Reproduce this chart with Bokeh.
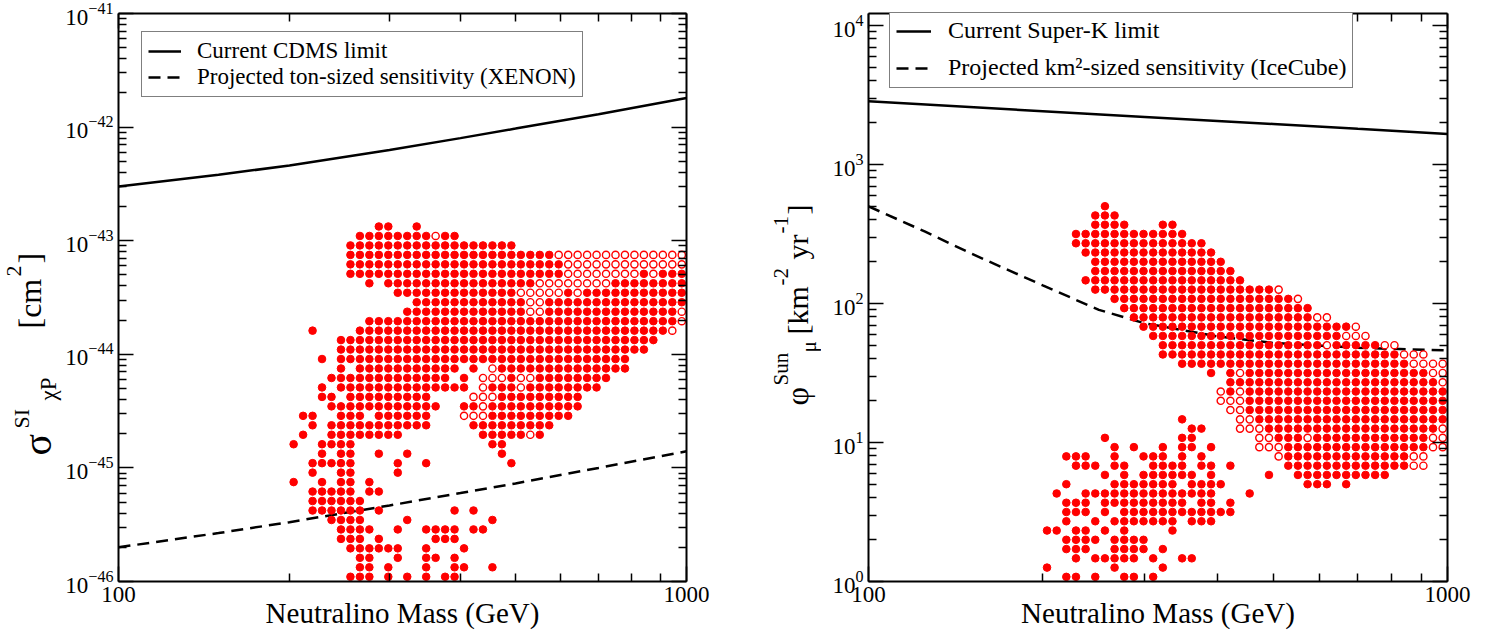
import math
from bokeh.plotting import figure
from bokeh.models import (LogAxis, FixedTicker, Label, Legend, LegendItem,
                          Range1d, LogTickFormatter, CustomJSTickFormatter)
from bokeh.layouts import row
from bokeh.embed import file_html
from bokeh.resources import INLINE

# ---------------------------------------------------------------- data
# Scan grid: 60 mass columns per decade (column index c),
# 12 rows per decade for the cross-section panel, 15 rows per decade for the flux panel.
MASS_COLS_PER_DECADE = 60
LEFT_ROWS_PER_DECADE = 12
RIGHT_ROWS_PER_DECADE = 15

# Left panel rows (row 0 = lowest, at 1e-46), top row first
left_rows = list(range(37, -1, -1))
left_filled = [
    "27-28,31", "25-32,34-35", "24-41", "24-45", "24-46", "24-46,55,57-59",
    "26,28-43,52-59", "29-41,47,49-59", "31-42,45-59", "30-42,45-58", "26-58",
    "20,25-57", "23-56", "23-55", "21,23-53", "23,25-35,37,40-53",
    "22-34,36,41,44-51", "21,23-36,39-41,43-50", "21-22,24-32,40-48",
    "22-33,36-37,39-48", "19-20,23-25,27-32,39-47", "20,22-32,37-45",
    "19,22-29,38-42,44", "18,21-24,39-40", "21,23-24,27,30,40", "20-24,29,32,41",
    "20,23-24,29", "18,21,23-24,26", "20-24,26-27", "20-25", "20-25,27,35,37",
    "22-25,30,39", "23-26,29,32-35,37-38", "23-25,27,33-35", "24-29,32,36",
    "25-26,29,32-33,35", "25-26,28,32,35-36,39", "24-26,28,30,32,34-35",
]
left_open = [
    "", "33", "", "46-59", "47-59", "47-54,56", "44-51", "42-46,48", "43-44",
    "43-44,59", "59", "58", "", "", "", "39", "38-40,42-43", "38,42", "37-39",
    "38", "36-38", "", "43", "", "", "", "", "", "", "", "", "", "", "", "", "",
    "", "",
]

# Right panel rows (row 0 = lowest, at 1), top row first
right_rows = list(range(40, -1, -1))
right_filled = [
    "24", "23-25", "23-26,30-31", "21-32", "21-34", "22-35", "23-36", "23-37",
    "22-38", "23-41", "25-43", "26-45", "27-45", "28-49", "29-48",
    "30-46,48-52", "30-54", "32-55", "35,37,39-57", "37-58", "37,39-59",
    "39-59", "39-59", "32,40-59", "33-34,41-58", "24,32-33,42-44,46-57",
    "25,27,30,32-33,35,43-57", "20-22,25,28-30,32,34,43-55",
    "21-23,25-26,29-32,34-35,37,43-55", "24,26,28-33,35,41,44-53",
    "20,25-31,33-36,45-47,49", "19,22-35,39", "20-22,24-32,34-35,37",
    "20-22,24,26-37", "20,23,25-31,33-35", "18-19,21-22,24,26,31",
    "20-23,25-28", "20-22,25-28,30", "21,23-27,29,32-33", "18,25,30",
    "20-21,23,26-27,29",
]
right_open = [
    "", "", "", "", "", "", "", "", "", "42", "44", "", "46-47", "50", "49-51",
    "47,53-54", "55-57", "56-59", "38,58-59", "59", "36,38", "36-38", "37-38",
    "38-39", "38-40,59", "40-41,45,58-59", "40-42,58-59", "42,56-57", "56-57",
    "", "", "", "", "", "", "", "", "", "", "", "",
]

# Limit curves
cdms_mass = [100, 150, 200, 300, 400, 500, 700, 1000]
cdms_sigma = [3.0e-43, 3.8e-43, 4.6e-43, 6.3e-43, 8.0e-43, 9.7e-43, 1.3e-42, 1.8e-42]
xenon_mass = [100, 150, 200, 300, 400, 500, 700, 1000]
xenon_sigma = [2.0e-46, 2.67e-46, 3.33e-46, 4.67e-46, 6.0e-46, 7.3e-46, 1.0e-45, 1.4e-45]
superk_mass = [100, 200, 300, 500, 700, 1000]
superk_flux = [2850, 2420, 2200, 1955, 1805, 1660]
icecube_mass = [100, 125, 150, 200, 250, 300, 400, 500, 700, 1000]
icecube_flux = [500, 330, 230, 135, 90, 72, 58, 52, 48, 46]

# Axis extents
left_y_extent = (1e-46, 1e-41)
right_y_extent = (1, 1.22e4)

# Texts
left_legend = ["Current CDMS limit", "Projected ton-sized sensitivity (XENON)"]
right_legend = ["Current Super-K limit", "Projected km\u00b2-sized sensitivity (IceCube)"]
x_title = "Neutralino Mass (GeV)"

# ---------------------------------------------------------------- layout constants
FONT = "Liberation Serif"
RED = "#ff0000"
H = 640          # canvas height
TOP = 13         # frame top (page px)
BOT = 581        # frame bottom (page px)
FH = BOT - TOP


def parse(spec):
    out = []
    for part in spec.split(","):
        part = part.strip()
        if not part:
            continue
        if "-" in part:
            a, b = part.split("-")
            out.extend(range(int(a), int(b) + 1))
        else:
            out.append(int(part))
    return out


def grid_points(rows, specs, y_lo_exp, rows_per_decade):
    xs, ys = [], []
    for r, spec in zip(rows, specs):
        for c in parse(spec):
            xs.append(10 ** (2 + (c + 0.5) / MASS_COLS_PER_DECADE))
            ys.append(10 ** (y_lo_exp + (r + 0.5) / rows_per_decade))
    return xs, ys


def style_axis(ax, ticks, minor, show_labels=True, fmt=None):
    ax.ticker = FixedTicker(ticks=ticks, minor_ticks=minor)
    if fmt is not None:
        ax.formatter = fmt
    ax.axis_line_width = 2
    ax.axis_line_color = "black"
    ax.major_tick_in = 15
    ax.major_tick_out = 0
    ax.minor_tick_in = 8
    ax.minor_tick_out = 0
    ax.major_tick_line_width = 1.5
    ax.minor_tick_line_width = 1.5
    ax.major_tick_line_color = "black"
    ax.minor_tick_line_color = "black"
    ax.major_label_text_font = FONT
    if show_labels:
        ax.major_label_text_color = "black"
        ax.major_label_text_font_size = "23px"
        ax.major_label_standoff = 5
    else:
        ax.formatter = CustomJSTickFormatter(code="return ' '")
        ax.major_label_text_alpha = 0.0
        ax.major_label_text_font_size = "2px"
        ax.major_label_standoff = 0


def decade_minors(lo, hi):
    out = []
    for e in range(lo, hi):
        for k in range(2, 10):
            out.append(k * 10.0 ** e)
    return out


def make_fig(fw, y_range, bl, br):
    p = figure(frame_width=fw, frame_height=FH, x_axis_type="log", y_axis_type="log",
               x_range=Range1d(100, 1000), y_range=y_range, title=None,
               output_backend="svg", toolbar_location=None,
               min_border_left=bl, min_border_right=br, min_border_top=TOP,
               min_border_bottom=H - BOT)
    p.grid.visible = False
    p.outline_line_color = None
    p.background_fill_color = "white"
    p.border_fill_color = "white"
    return p


def add_frame_axes(p, yticks, yminor):
    xt = [100, 1000]
    xm = [200, 300, 400, 500, 600, 700, 800, 900]
    bx = p.xaxis[0]
    style_axis(bx, xt, xm, True, LogTickFormatter(min_exponent=4))
    bx.axis_label = x_title
    bx.axis_label_text_font = FONT
    bx.axis_label_text_font_size = "29px"
    bx.axis_label_text_font_style = "normal"
    bx.axis_label_text_color = "black"
    bx.axis_label_standoff = -8
    style_axis(p.yaxis[0], yticks, yminor, True)
    top = LogAxis()
    style_axis(top, xt, xm, False)
    p.add_layout(top, "above")
    right = LogAxis()
    style_axis(right, yticks, yminor, False)
    p.add_layout(right, "right")


def add_points(p, rows, filled, opened, y_lo, rpd):
    fx, fy = grid_points(rows, filled, y_lo, rpd)
    ox, oy = grid_points(rows, opened, y_lo, rpd)
    p.scatter(fx, fy, size=7.6, fill_color=RED, line_color=RED, line_width=1)
    p.scatter(ox, oy, size=7.2, fill_color="white", line_color=RED, line_width=1.4)


def add_legend(p, renderers, labels, loc, glyph_w, standoff, spacing, fsize):
    leg = Legend(items=[LegendItem(label=l, renderers=[r]) for l, r in zip(labels, renderers)],
                 location=loc, margin=0, padding=6, spacing=spacing,
                 glyph_width=glyph_w, glyph_height=24, label_height=24,
                 label_standoff=standoff, label_text_font=FONT,
                 label_text_font_size=fsize, label_text_color="black",
                 border_line_color="black", border_line_width=1.5,
                 background_fill_color="white", background_fill_alpha=1.0)
    p.add_layout(leg, "center")


def title_strip(width, left_px):
    """Narrow canvas for the rotated y-axis title; data units = page pixels."""
    t = figure(frame_width=width, frame_height=FH,
               x_range=Range1d(left_px, left_px + width),
               y_range=Range1d(H - BOT, H - TOP),
               title=None, output_backend="svg", toolbar_location=None,
               x_axis_location=None, y_axis_location=None,
               min_border_left=0, min_border_right=0,
               min_border_top=TOP, min_border_bottom=H - BOT)
    t.grid.visible = False
    t.outline_line_color = None
    t.background_fill_color = "white"
    t.border_fill_color = "white"
    return t


def rot(t, px, py, text, size):
    """Rotated (reading upwards) text; px = centre line, py = lower end."""
    t.add_layout(Label(x=px, y=H - py, x_units="data", y_units="data",
                       text=text, text_font=FONT, text_font_size=size,
                       text_color="black", angle=math.pi / 2,
                       text_align="left", text_baseline="middle"))


# ---------------------------------------------------------------- left panel
t1 = title_strip(62, 0)
rot(t1, 37, 455, "\u03c3", "40px")
rot(t1, 21, 428, "SI", "22px")
rot(t1, 48, 400, "\u03c7P", "23px")
rot(t1, 29, 328, "[cm", "32px")
rot(t1, 13, 276, "2", "22px")
rot(t1, 29, 263, "]", "32px")

p1 = make_fig(568, Range1d(*left_y_extent), 55, 60)
add_frame_axes(p1, [10.0 ** e for e in range(-46, -40)], decade_minors(-46, -41))
r_cdms = p1.line(cdms_mass, cdms_sigma, line_color="black", line_width=2.5)
r_xe = p1.line(xenon_mass, xenon_sigma, line_color="black", line_width=2.5,
               line_dash="12 7")
add_points(p1, left_rows, left_filled, left_open, -46, LEFT_ROWS_PER_DECADE)
add_legend(p1, [r_cdms, r_xe], left_legend, (23, BOT - 97), 33, 16, 0, "23px")

# ---------------------------------------------------------------- right panel
T2_LEFT = 745
t2 = title_strip(75, T2_LEFT)
rot(t2, 795, 405, "\u03c6", "32px")
rot(t2, 779, 385, "Sun", "21px")
rot(t2, 807, 352, "\u03bc", "21px")
rot(t2, 796, 334, "[km", "30px")
rot(t2, 779, 285, "-2", "21px")
rot(t2, 796, 259, "yr", "30px")
rot(t2, 779, 233, "-1", "21px")
rot(t2, 796, 214, "]", "30px")

p2 = make_fig(579, Range1d(*right_y_extent), 47, 46)
add_frame_axes(p2, [10.0 ** e for e in range(0, 5)], decade_minors(0, 4))
r_sk = p2.line(superk_mass, superk_flux, line_color="black", line_width=2.5)
r_ic = p2.line(icecube_mass, icecube_flux, line_color="black", line_width=2.5,
               line_dash="12 7")
add_points(p2, right_rows, right_filled, right_open, 0, RIGHT_ROWS_PER_DECADE)
add_legend(p2, [r_sk, r_ic], right_legend, (21, BOT - 88), 35, 17, 10, "24px")

layout = row(t1, p1, t2, p2)
with open("out.html", "w") as f:
    f.write(file_html(layout, INLINE))
